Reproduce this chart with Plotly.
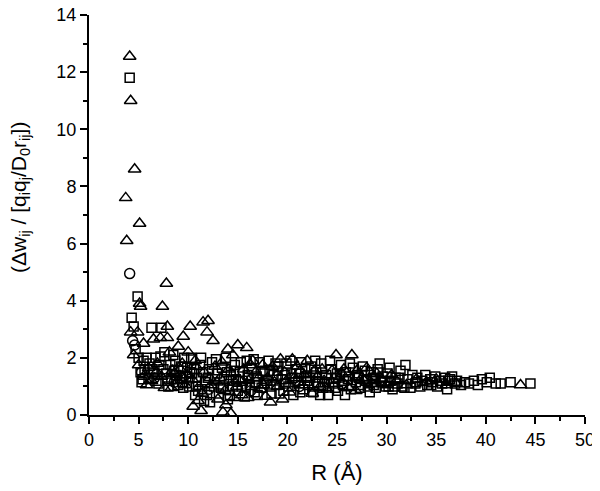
# %% Requirements and data
import plotly.graph_objects as go

# triangles
tri_x = [4.1, 4.2, 4.6, 3.7, 5.1, 3.8, 7.8, 7.4, 5.1, 5.2, 4.2, 4.9, 5.5, 7.2, 7.9, 7.9,
         6.5, 10.2, 9.5, 11.5, 12.0, 11.9, 12.5, 9.0, 4.5, 5.0, 5.5, 7.6, 10.5, 11.0, 11.3,
         13.5, 14.3, 13.8, 14.0, 15.0, 15.9, 14.5, 16.5, 18.3, 19.5, 16.0,
         6.0, 6.3, 6.9, 7.3, 8.1, 8.4, 8.9, 9.4, 9.7, 10.0, 10.4, 10.8, 11.1, 11.6, 12.3,
         12.7, 13.0, 13.2, 13.7, 14.1, 14.6, 15.1, 15.4, 15.6, 16.1, 16.8, 17.3, 17.5, 17.8,
         18.0, 18.5, 19.0, 19.3, 19.7, 20.2, 20.7, 21.0, 21.5, 22.0, 22.5, 23.0, 23.5, 24.0,
         24.5, 24.9, 25.2, 25.7, 26.2, 26.5, 27.0, 27.5, 28.0, 28.5, 29.0, 29.5, 30.0, 30.5,
         31.0, 32.0, 33.0, 34.0, 35.0, 36.0, 37.0, 43.5, 22.7, 20.5,
         8.6, 9.9, 11.4, 12.9, 14.9, 17.1, 18.7, 21.7, 23.7, 26.9, 28.7,
         5.8, 6.8, 8.3, 9.2, 10.7, 12.2, 13.4, 14.7, 16.3, 17.6, 19.9, 21.3, 23.3, 25.5, 27.8]
tri_y = [12.55, 11.0, 8.6, 7.6, 6.7, 6.1, 4.6, 3.8, 3.9, 3.8, 2.9, 2.9, 2.5, 2.7, 3.1, 2.7,
         2.65, 3.1, 2.75, 3.25, 3.3, 2.9, 2.6, 2.4, 2.1, 1.75, 1.35, 0.95, 0.3, 0.5, 0.15,
         0.1, 0.05, 0.35, 2.3, 2.45, 2.35, 2.1, 1.9, 0.45, 0.55, 0.6,
         1.65, 1.2, 1.8, 1.35, 2.2, 1.55, 1.2, 1.8, 1.05, 2.2, 1.25, 1.7, 1.0, 1.5, 1.05,
         1.7, 0.55, 1.3, 0.85, 1.6, 0.6, 1.25, 0.7, 1.6, 1.2, 1.5, 0.9, 1.75, 0.65,
         1.3, 1.7, 1.0, 1.95, 1.5, 0.8, 1.3, 1.7, 1.05, 1.9, 0.75, 1.35, 1.6, 0.9,
         1.55, 2.1, 1.25, 1.6, 0.95, 2.1, 1.55, 1.3, 1.65, 1.1, 1.45, 1.25, 1.05, 1.4,
         1.2, 1.05, 1.25, 1.15, 1.25, 1.05, 1.1, 1.05, 1.55, 1.95,
         1.45, 1.4, 0.75, 1.15, 1.0, 1.3, 1.15, 1.4, 1.2, 0.85, 1.35,
         1.05, 1.5, 0.95, 1.6, 1.9, 1.3, 1.85, 1.15, 1.75, 1.05, 1.2, 1.55, 1.0, 1.45, 1.2]

# squares
sq_x = [4.1, 4.3, 4.5, 4.9, 4.7, 5.0, 5.2, 5.3, 5.6, 5.8, 6.3, 6.1, 6.5, 6.8, 7.3, 7.2,
        7.5, 7.8, 7.6, 8.2, 8.5, 8.3, 8.8, 9.0, 9.3, 9.6, 9.9, 9.8, 10.1, 10.3, 10.6, 10.9,
        11.0, 11.3, 11.5, 11.7, 11.9, 12.2, 12.4, 12.6, 12.9, 13.1, 13.4, 13.6, 13.8, 14.0,
        14.3, 14.5, 14.7, 15.0, 15.2, 15.5, 15.7, 15.9, 16.2, 16.4, 16.7, 16.9, 17.2, 17.4,
        17.7, 17.9, 18.1, 18.4, 18.6, 18.9, 19.1, 19.4, 19.6, 19.9, 20.1, 20.4, 20.6, 20.9,
        21.1, 21.4, 21.6, 21.9, 22.1, 22.4, 22.6, 22.9, 23.1, 23.4, 23.6, 23.9, 24.1, 24.4,
        24.6, 24.9, 25.1, 25.4, 25.6, 25.9, 26.1, 26.4, 26.6, 26.9, 27.1, 27.4, 27.6, 27.9,
        28.1, 28.4, 28.6, 28.9, 29.1, 29.4, 29.6, 29.9, 30.1, 30.4, 30.6, 30.9, 31.1, 31.4,
        31.6, 31.9, 32.1, 32.4, 32.6, 32.9, 33.1, 33.4, 33.6, 33.9, 34.1, 34.4, 34.6, 34.9,
        35.1, 35.4, 35.6, 35.9, 36.1, 36.4, 36.6, 36.9, 37.1, 37.5, 37.9, 38.3, 38.8, 39.2,
        39.6, 40.1, 40.4, 41.0, 41.5, 42.5, 44.5,
        5.5, 6.0, 6.7, 7.0, 8.0, 8.7, 9.2, 9.5, 10.4, 10.7, 11.2, 11.6, 12.0, 12.8, 13.3,
        13.9, 14.2, 14.8, 15.3, 15.8, 16.0, 16.6, 17.0, 17.6, 18.2, 18.8, 19.2, 19.8, 20.3,
        20.8, 21.3, 21.8, 22.3, 22.8, 23.3, 23.8, 24.3, 24.8, 25.3, 25.8, 26.3, 26.8, 27.3,
        27.8, 28.3, 28.8, 29.3, 29.8, 30.3, 30.8, 31.3, 31.8,
        5.4, 6.4, 7.1, 7.9, 8.6, 9.4, 10.2, 10.8, 11.4, 12.1, 12.7, 13.5, 14.1, 14.6, 15.4,
        16.1, 16.8, 17.5, 18.3, 19.0, 19.7, 20.5, 21.2, 22.0, 22.7, 23.5, 24.2, 25.0, 25.7,
        26.5, 27.2, 28.0, 28.7, 29.5, 30.2, 33.0, 34.5, 36.2]
sq_y = [11.8, 3.4, 3.1, 4.15, 2.3, 2.0, 1.5, 1.15, 1.6, 2.0, 3.05, 1.8, 1.45, 1.2, 3.05, 2.05,
        1.6, 1.45, 2.2, 1.75, 2.1, 1.25, 1.4, 1.05, 1.7, 2.0, 1.65, 1.35, 1.0, 2.0, 1.6, 1.3,
        0.85, 2.0, 1.5, 1.15, 0.7, 0.45, 1.85, 1.0, 1.45, 0.75, 1.65, 1.25, 2.0, 0.55,
        1.4, 1.0, 1.75, 0.85, 1.5, 1.2, 0.65, 1.9, 1.05, 1.6, 0.8, 1.35, 1.85, 0.95,
        1.55, 1.2, 1.9, 0.75, 1.4, 1.05, 1.7, 1.25, 0.85, 1.8, 1.0, 1.45, 0.7, 1.6,
        1.2, 1.85, 0.9, 1.35, 1.05, 1.7, 0.8, 1.5, 1.15, 1.8, 0.95, 1.4, 0.7, 1.6,
        1.1, 1.3, 0.85, 1.75, 1.05, 1.5, 1.25, 0.9, 1.65, 1.15, 1.4, 0.95, 1.7, 1.2,
        1.0, 1.5, 1.3, 0.95, 1.6, 1.15, 1.35, 1.0, 1.45, 1.2, 0.9, 1.3, 1.1, 1.55,
        1.0, 1.75, 1.25, 0.95, 1.4, 1.1, 1.3, 1.0, 1.2, 1.4, 1.05, 1.25, 1.15, 1.35,
        1.0, 1.2, 1.1, 1.3, 0.9, 1.25, 1.35, 1.1, 1.2, 1.05, 1.15, 1.1, 1.2, 1.05,
        1.25, 1.15, 1.3, 1.1, 1.1, 1.15, 1.1,
        1.9, 1.3, 2.0, 1.1, 1.0, 1.9, 1.3, 0.95, 1.45, 0.7, 1.75, 0.5, 1.3, 1.95, 0.95,
        1.5, 0.7, 1.25, 1.85, 1.0, 1.4, 1.95, 0.7, 1.1, 1.55, 1.8, 0.75, 1.4, 1.9,
        1.15, 0.8, 1.6, 1.3, 1.9, 0.7, 1.15, 1.9, 0.95, 1.4, 0.7, 1.8, 1.35, 1.05,
        1.55, 0.8, 1.25, 1.8, 1.15, 1.65, 1.0, 1.3, 0.95,
        1.25, 1.6, 1.75, 1.2, 1.55, 1.15, 1.5, 1.0, 0.9, 1.6, 1.25, 1.0, 1.2, 1.55, 1.0,
        1.3, 1.15, 1.45, 1.0, 1.55, 1.1, 1.3, 1.45, 1.2, 1.0, 1.3, 1.15, 1.45, 1.2,
        1.05, 1.3, 1.25, 1.05, 1.2, 1.0, 1.15, 1.05, 1.2]

# circles
circ_x = [4.1, 4.4, 4.6, 5.3, 6.6, 8.6, 10.1, 12.1, 16.3, 21.2, 25.5, 19.0]
circ_y = [4.95, 2.6, 2.45, 1.5, 1.3, 1.15, 1.25, 0.9, 0.85, 1.0, 1.1, 1.35]

x_ticks = [0, 5, 10, 15, 20, 25, 30, 35, 40, 45, 50]
y_ticks = [0, 2, 4, 6, 8, 10, 12, 14]

# %% Figure
FONT = "Liberation Sans, Arial, sans-serif"
mk_line = dict(color="black", width=1.5)

fig = go.Figure()
fig.add_trace(go.Scatter(x=sq_x, y=sq_y, mode="markers", cliponaxis=False,
                         marker=dict(symbol="square-open", size=9, line=mk_line, color="black")))
fig.add_trace(go.Scatter(x=tri_x, y=tri_y, mode="markers", cliponaxis=False,
                         marker=dict(symbol="triangle-up-open", size=11, line=mk_line, color="black")))
fig.add_trace(go.Scatter(x=circ_x, y=circ_y, mode="markers", cliponaxis=False,
                         marker=dict(symbol="circle-open", size=10, line=mk_line, color="black")))

axis_common = dict(showgrid=False, zeroline=False, showline=True, linecolor="black",
                   linewidth=2, ticks="outside", ticklen=7, tickwidth=2, tickcolor="black",
                   automargin=False, ticklabeloverflow="allow",
                   tickfont=dict(family=FONT, size=18, color="black"))

fig.update_xaxes(range=[0, 50], tickvals=x_ticks,
                 minor=dict(ticks="outside", ticklen=4, tickwidth=1.5, tickcolor="black", dtick=2.5),
                 title=dict(text="R (Å)", font=dict(family=FONT, size=22, color="black"), standoff=16),
                 **axis_common)
fig.update_yaxes(range=[0, 14], tickvals=y_ticks,
                 minor=dict(ticks="outside", ticklen=4, tickwidth=1.5, tickcolor="black", dtick=1),
                 **axis_common)

# y title as an annotation so it can sit a bit above the axis centre, like the original
fig.add_annotation(text="(Δw<sub>ij</sub> / [q<sub>i</sub>q<sub>j</sub>/D<sub>0</sub>r<sub>ij</sub>])",
                   xref="paper", yref="paper", x=-0.139, y=0.545, textangle=-90,
                   xanchor="center", yanchor="middle", showarrow=False,
                   font=dict(family=FONT, size=21, color="black"))

# the page has an 8px body margin, so the figure is a bit smaller than the window
fig.update_layout(width=592, height=483, showlegend=False,
                  plot_bgcolor="white", paper_bgcolor="white",
                  margin=dict(l=81, r=15, t=7, b=76))

fig.write_html("out.html")
